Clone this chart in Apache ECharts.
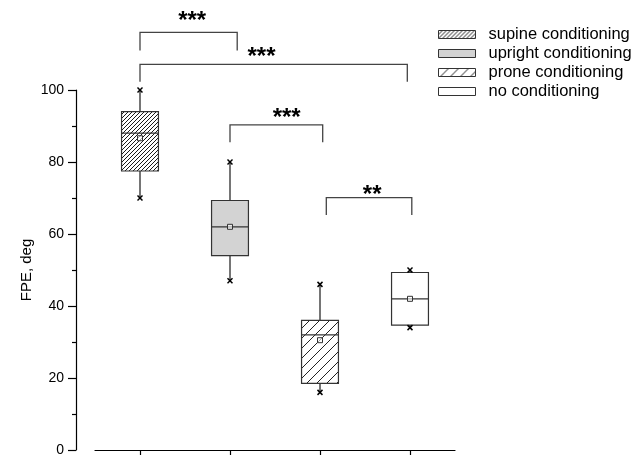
<!DOCTYPE html>
<html>
<head>
<meta charset="utf-8">
<title>FPE by conditioning</title>
<script src="https://cdn.jsdelivr.net/npm/echarts@6/dist/echarts.min.js"></script>
<style>
  html, body { margin: 0; padding: 0; background: #fff; }
  #chart { width: 633px; height: 455px; }
</style>
</head>
<body>
<div id="chart"></div>
<script>
// values (FPE, deg)
const categories = ['supine conditioning', 'upright conditioning', 'prone conditioning', 'no conditioning']
const minVals = [70, 47, 16, 34]
const q1Vals = [77.5, 54, 18.5, 34.7]
const medianVals = [88, 62, 32, 42]
const q3Vals = [94, 69.3, 36, 49.3]
const maxVals = [100, 80, 46, 50]
const meanVals = [86.6, 62, 30.5, 42]

// significance brackets: x in category index units, y in FPE units
const bracketFrom = [0, 0, 1, 2.07]
const bracketTo = [1.08, 2.97, 2.03, 3.02]
const bracketTop = [116, 107.1, 90.3, 70.1]
const bracketFoot = [111, 102.3, 85.5, 65.3]
const starLabels = ['***', '***', '***', '**']
const starX = [0.58, 1.35, 1.63, 2.58]
const starY = [120.6, 110.6, 93.7, 72.4]

const FONT = '"Liberation Sans", Arial, sans-serif'

const hatch = (step, bg, stroke) => {
  const c = document.createElement('canvas')
  c.width = step
  c.height = step
  const ctx = c.getContext('2d')
  ctx.fillStyle = bg
  ctx.fillRect(0, 0, step, step)
  ctx.strokeStyle = stroke
  ctx.lineWidth = 1
  ctx.beginPath()
  ctx.moveTo(0, step); ctx.lineTo(step, 0)
  ctx.moveTo(-1, 1); ctx.lineTo(1, -1)
  ctx.moveTo(step - 1, step + 1); ctx.lineTo(step + 1, step - 1)
  ctx.stroke()
  return { image: c, repeat: 'repeat' }
}

const fills = [
  hatch(4, '#ffffff', '#1a1a1a'),
  '#d3d3d3',
  hatch(10, '#ffffff', '#222222'),
  '#ffffff'
]

const renderBox = (params, api) => {
  const i = api.value(0)
  const band = api.size([1, 0])[0]
  const half = band * 0.205
  const cx = api.coord([i, 0])[0]
  const y = (v) => api.coord([i, v])[1]
  const yMin = y(api.value(1))
  const yQ1 = y(api.value(2))
  const yMed = y(api.value(3))
  const yQ3 = y(api.value(4))
  const yMax = y(api.value(5))
  const yMean = y(api.value(6))
  const lineStyle = { stroke: '#333', lineWidth: 1.2 }
  const whisker = { stroke: '#666', lineWidth: 1.8 }
  const cross = (yy) => ({
    type: 'group',
    children: [
      { type: 'line', shape: { x1: cx - 2.5, y1: yy - 2.5, x2: cx + 2.5, y2: yy + 2.5 }, style: { stroke: '#000', lineWidth: 1.5 } },
      { type: 'line', shape: { x1: cx - 2.5, y1: yy + 2.5, x2: cx + 2.5, y2: yy - 2.5 }, style: { stroke: '#000', lineWidth: 1.5 } }
    ]
  })
  return {
    type: 'group',
    children: [
      { type: 'line', shape: { x1: cx, y1: yQ3, x2: cx, y2: yMax }, style: whisker },
      { type: 'line', shape: { x1: cx, y1: yQ1, x2: cx, y2: yMin }, style: whisker },
      {
        type: 'rect',
        shape: { x: cx - half, y: yQ3, width: half * 2, height: yQ1 - yQ3 },
        style: { fill: api.style().fill, stroke: '#333', lineWidth: 1.2 }
      },
      { type: 'line', shape: { x1: cx - half, y1: yMed, x2: cx + half, y2: yMed }, style: lineStyle },
      {
        type: 'rect',
        shape: { x: cx - 2.5, y: yMean - 2.5, width: 5, height: 5 },
        style: { fill: 'rgba(255,255,255,0.6)', stroke: '#333', lineWidth: 1 }
      },
      cross(yMax),
      cross(yMin)
    ]
  }
}

const renderBracket = (params, api) => {
  const band = api.size([1, 0])[0]
  const xAt = (v) => {
    const base = Math.max(0, Math.min(categories.length - 1, Math.round(v)))
    return api.coord([base, 0])[0] + (v - base) * band
  }
  const yAt = (v) => api.coord([0, v])[1]
  const x1 = xAt(api.value(0))
  const x2 = xAt(api.value(1))
  const yt = yAt(api.value(2))
  const yf = yAt(api.value(3))
  const st = { stroke: '#444', lineWidth: 1.3, fill: null }
  return {
    type: 'group',
    children: [
      { type: 'polyline', shape: { points: [[x1, yf], [x1, yt], [x2, yt], [x2, yf]] }, style: st },
      {
        type: 'text',
        x: xAt(api.value(4)),
        // asterisks sit high in the em box, nudge them down to their visual centre
        y: yAt(api.value(5)) + 6,
        style: {
          text: starLabels[params.dataIndex],
          fill: '#000',
          font: 'bold 24px ' + FONT,
          align: 'center',
          verticalAlign: 'middle'
        }
      }
    ]
  }
}

const boxSeries = categories.map((name, i) => ({
  name,
  type: 'custom',
  silent: true,
  renderItem: renderBox,
  itemStyle: { color: fills[i], borderColor: '#333', borderWidth: 1 },
  encode: { x: 0, y: [1, 2, 3, 4, 5] },
  data: [[i, minVals[i], q1Vals[i], medianVals[i], q3Vals[i], maxVals[i], meanVals[i]]]
}))

const bracketSeries = {
  type: 'custom',
  silent: true,
  renderItem: renderBracket,
  encode: { x: 0, y: 2 },
  data: bracketFrom.map((f, i) => [f, bracketTo[i], bracketTop[i], bracketFoot[i], starX[i], starY[i]])
}

const chart = echarts.init(document.getElementById('chart'))
chart.setOption({
  animation: false,
  textStyle: { fontFamily: FONT },
  grid: { left: 95, right: 178, top: 90, bottom: 5, outerBoundsMode: 'none' },
  legend: {
    orient: 'vertical',
    left: 438,
    top: 25,
    padding: 0,
    itemGap: 0,
    itemWidth: 37,
    itemHeight: 8,
    icon: 'rect',
    selectedMode: false,
    itemStyle: { borderColor: '#333', borderWidth: 1 },
    textStyle: { fontSize: 16.5, color: '#000', lineHeight: 19, padding: [0, 0, 0, 8], fontFamily: FONT },
    data: categories
  },
  xAxis: {
    type: 'category',
    data: categories,
    axisLine: { show: true, lineStyle: { color: '#000', width: 1.2 } },
    axisTick: { show: true, interval: 0, alignWithLabel: true, length: 5, lineStyle: { color: '#000', width: 1.2 } },
    axisLabel: { show: false, interval: 0 },
    splitLine: { show: false }
  },
  yAxis: {
    type: 'value',
    min: 0,
    max: 100,
    interval: 20,
    offset: 19,
    name: 'FPE, deg',
    nameLocation: 'middle',
    nameGap: 42,
    nameMoveOverlap: false,
    nameTextStyle: { fontSize: 15, color: '#000', fontFamily: FONT },
    axisLine: { show: true, lineStyle: { color: '#000', width: 1.2 } },
    axisTick: { show: true, length: 8, lineStyle: { color: '#000', width: 1.2 } },
    minorTick: { show: true, splitNumber: 2, length: 4, lineStyle: { color: '#000', width: 1.2 } },
    axisLabel: { fontSize: 14, color: '#000', margin: 12, fontFamily: FONT },
    splitLine: { show: false }
  },
  series: [...boxSeries, bracketSeries]
})
</script>
</body>
</html>
